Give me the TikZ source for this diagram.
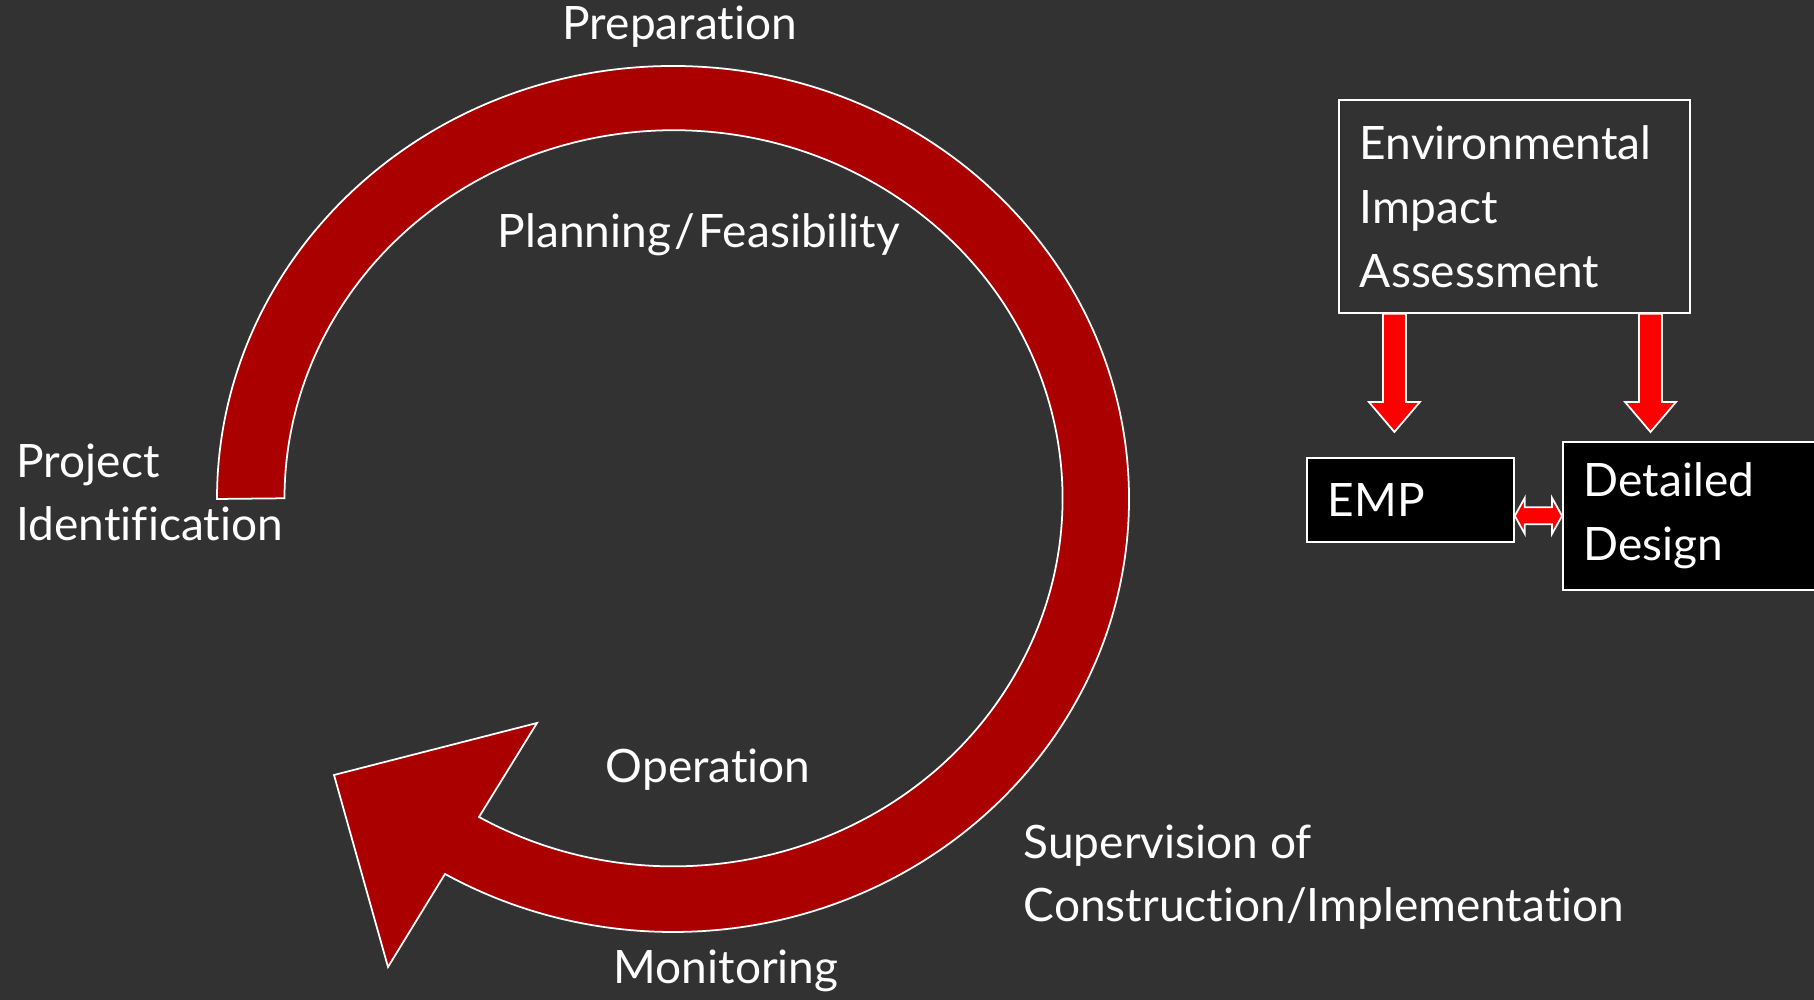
\documentclass[tikz,border=0pt]{standalone}
\usepackage{fontspec}
\setmainfont{Lato}[Ligatures=NoCommon]
\usetikzlibrary{calc}
\definecolor{slide}{HTML}{323232}
\definecolor{ring}{HTML}{AA0000}
\definecolor{fat}{HTML}{FF0000}
\newcommand{\fatdown}[2]{%
  \draw[fatred] let \p1=(#1), \p2=(#2) in
    (\x1-0.115cm,\y1) -- (\x1+0.115cm,\y1) -- (\x1+0.115cm,\y2+0.3cm)
    -- (\x1+0.255cm,\y2+0.3cm) -- (\x2,\y2) -- (\x1-0.255cm,\y2+0.3cm)
    -- (\x1-0.115cm,\y2+0.3cm) -- cycle;}
\begin{document}
\begin{tikzpicture}[font=\fontsize{13.1}{18.2}\selectfont, text=white,
  lbl/.style={anchor=base west, inner sep=0pt, align=left},
  box/.style={draw=white, line width=0.5pt, anchor=north west, inner xsep=0.21cm, align=left, text width=#1},
  fatred/.style={draw=white, line width=0.5pt, fill=fat}]
\clip (0,0) rectangle (18.14,10);
\fill[slide] (0,0) rectangle (18.14,10);
\draw[fill=ring, draw=white, line width=0.5pt] (2.17,5.01) arc[start angle=180, end angle=-120, x radius=4.56cm, y radius=4.33cm]
  -- (3.88,0.33) -- (3.34,2.25) -- (5.37,2.77) -- (4.79,1.83)
  arc[start angle=-120, end angle=180, x radius=3.89cm, y radius=3.68cm] -- cycle;
\node[lbl] (prep) at (5.62,9.60) {Preparation};
\node[lbl] (plan) at (4.97,7.52) {Planning\kern1pt/\kern1pt Feasibility};
\node[lbl] (ident) at (0.16,4.59) {Project\\Identification};
\node[lbl] (oper) at (6.05,2.17) {Operation};
\node[lbl] (super) at (10.23,0.78) {Supervision of\\Construction/Implementation};
\node[lbl] (monit) at (6.13,0.16) {Monitoring};
\node[box=3.09cm, minimum width=3.51cm, minimum height=2.13cm] (eia) at (13.38,9.01) {Environmental\\Impact\\Assessment};
\node[box=1.65cm, fill=black, minimum width=2.07cm, minimum height=0.84cm] (emp) at (13.06,5.43) {EMP};
\node[box=2.48cm, fill=black, minimum width=2.9cm, minimum height=1.48cm] (dd) at (15.62,5.59) {Detailed\\Design};
\coordinate (tipl) at ($(emp.north)+(-0.16,0.25)$);
\coordinate (tipr) at ($(dd.north west)+(0.885,0.09)$);
\fatdown{eia.south -| tipl}{tipl}
\fatdown{eia.south -| tipr}{tipr}
\draw[fatred] let \p1=(emp.east |- dd.west), \p2=(dd.west) in
  (\x1,\y1) -- (\x1+0.1cm,\y1+0.18cm) -- (\x1+0.1cm,\y1+0.085cm) -- (\x2-0.1cm,\y1+0.085cm)
  -- (\x2-0.1cm,\y1+0.18cm) -- (\x2,\y1) -- (\x2-0.1cm,\y1-0.18cm) -- (\x2-0.1cm,\y1-0.085cm)
  -- (\x1+0.1cm,\y1-0.085cm) -- (\x1+0.1cm,\y1-0.18cm) -- cycle;
\end{tikzpicture}
\end{document}
